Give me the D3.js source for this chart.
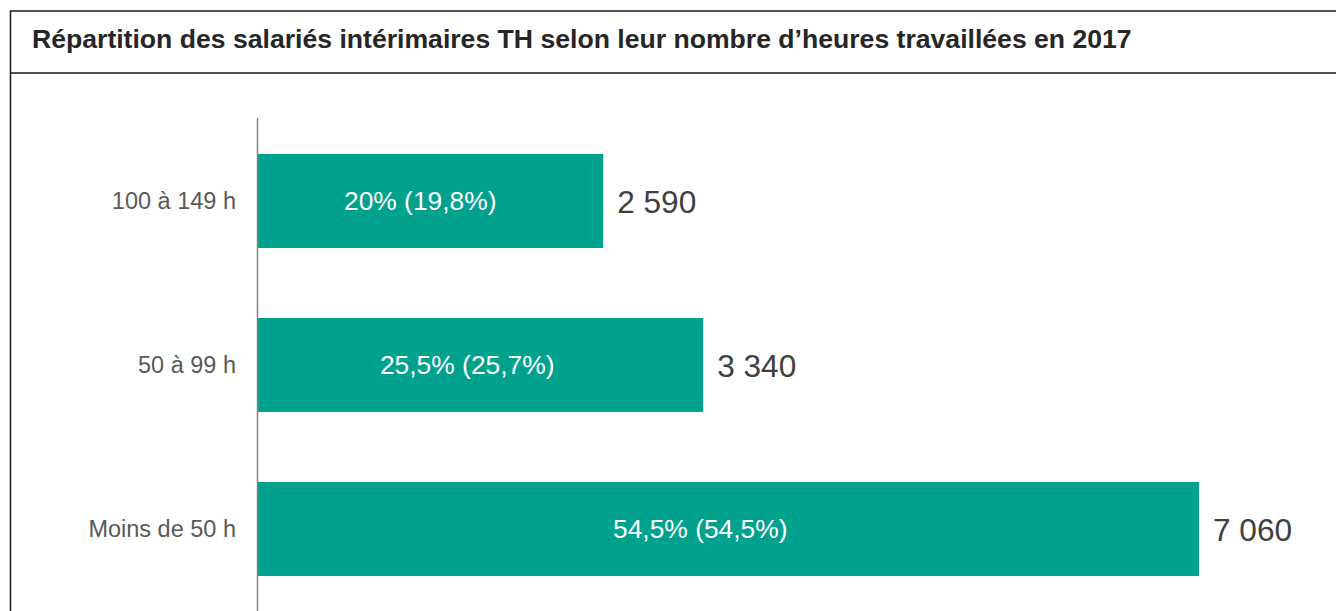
<!DOCTYPE html>
<html>
<head>
<meta charset="utf-8">
<script src="https://cdn.jsdelivr.net/npm/d3@7"></script>
<style>
  body { margin: 0; background: #fff; }
  svg { display: block; font-family: "Liberation Sans", Arial, sans-serif; }
</style>
</head>
<body>
<div id="chart"></div>
<script>
// data
const title = "Répartition des salariés intérimaires TH selon leur nombre d’heures travaillées en 2017";
const categories = ["100 à 149 h", "50 à 99 h", "Moins de 50 h"];
const values = [2590, 3340, 7060];
const shares = ["20% (19,8%)", "25,5% (25,7%)", "54,5% (54,5%)"];

const W = 1336, H = 611;
const svg = d3.select("#chart").append("svg")
    .attr("width", W)
    .attr("height", H);

// frame around title + left edge
svg.append("path")
    .attr("d", `M10.5,${H} V11 H${W}`)
    .attr("fill", "none")
    .attr("stroke", "#1a1a1a")
    .attr("stroke-width", 1.5);
svg.append("line")
    .attr("x1", 10).attr("x2", W)
    .attr("y1", 73).attr("y2", 73)
    .attr("stroke", "#1a1a1a")
    .attr("stroke-width", 1.5);

svg.append("text")
    .attr("x", 32)
    .attr("y", 48)
    .attr("font-size", 26.6)
    .attr("font-weight", "bold")
    .attr("fill", "#262626")
    .text(title);

const x0 = 258;
const x = d3.scaleLinear()
    .domain([0, 7060])
    .range([x0, 1199]);

const y = d3.scaleBand()
    .domain(categories)
    .range([119, 611])
    .paddingInner(0.427)
    .paddingOuter(0.2135);

// bars
svg.append("g")
    .selectAll("rect")
    .data(values)
    .join("rect")
    .attr("x", x(0))
    .attr("y", (d, i) => y(categories[i]))
    .attr("width", d => x(d) - x(0))
    .attr("height", y.bandwidth())
    .attr("fill", "#00A28E");

// axis line
svg.append("line")
    .attr("x1", 257.5).attr("x2", 257.5)
    .attr("y1", 118).attr("y2", H)
    .attr("stroke", "#868686")
    .attr("stroke-width", 1.5);

// category labels
svg.append("g")
    .selectAll("text")
    .data(categories)
    .join("text")
    .attr("x", 236)
    .attr("y", d => y(d) + y.bandwidth() / 2)
    .attr("dy", "0.35em")
    .attr("text-anchor", "end")
    .attr("font-size", 23.5)
    .attr("fill", "#595959")
    .text(d => d);

// shares inside bars (sit a little left of the bar centre)
svg.append("g")
    .selectAll("text")
    .data(shares)
    .join("text")
    .attr("x", (d, i) => x(0) + 0.47 * (x(values[i]) - x(0)))
    .attr("y", (d, i) => y(categories[i]) + y.bandwidth() / 2)
    .attr("dy", "0.35em")
    .attr("text-anchor", "middle")
    .attr("font-size", 26.4)
    .attr("fill", "#ffffff")
    .text(d => d);

// counts after bars
const fmt = d3.formatLocale({ decimal: ",", thousands: " ", grouping: [3], currency: ["", ""] }).format(",");
svg.append("g")
    .selectAll("text")
    .data(values)
    .join("text")
    .attr("x", d => x(d) + 14)
    .attr("y", (d, i) => y(categories[i]) + y.bandwidth() / 2)
    .attr("dy", "0.38em")
    .attr("font-size", 31.6)
    .attr("fill", "#404040")
    .text(d => fmt(d));
</script>
</body>
</html>
